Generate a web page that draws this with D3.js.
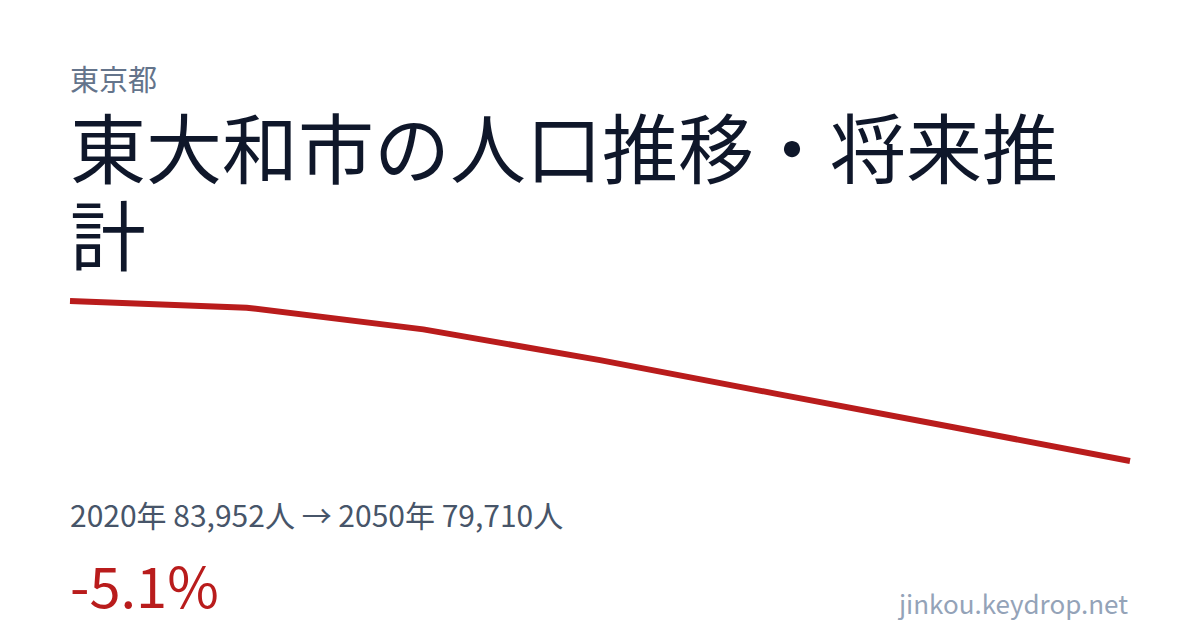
<!DOCTYPE html>
<html>
<head>
<meta charset="utf-8">
<script src="https://cdn.jsdelivr.net/npm/d3@7"></script>
<style>
  html, body { margin: 0; padding: 0; background: #fff; }
  svg { display: block; font-family: "Noto Sans CJK JP", "Noto Sans", sans-serif; }
</style>
</head>
<body>
<svg id="chart" width="1200" height="630"></svg>
<script>
// data
var years = [2020, 2025, 2030, 2035, 2040, 2045, 2050];
var population = [83952, 83775, 83200, 82385, 81490, 80605, 79710];

var prefName = "東京都";
var titleText = "東大和市の人口推移・将来推計";
var siteName = "jinkou.keydrop.net";

var W = 1200, H = 630;
var left = 70, right = 1130;

var svg = d3.select("#chart");

svg.append("rect").attr("width", W).attr("height", H).attr("fill", "#ffffff");

svg.append("text")
    .attr("x", left).attr("y", 91)
    .attr("font-size", 29)
    .attr("fill", "#64748b")
    .text(prefName);

// title, wrapped to the available width
var title = svg.append("text")
    .attr("x", left).attr("y", 178)
    .attr("font-size", 76)
    .attr("fill", "#0f172a");

(function wrap(){
    var chars = Array.from(titleText), line = "", lines = [];
    var probe = title.append("tspan");
    chars.forEach(function(c){
        probe.text(line + c);
        if (probe.node().getComputedTextLength() > right - left && line) {
            lines.push(line);
            line = c;
        } else {
            line += c;
        }
    });
    lines.push(line);
    probe.remove();
    lines.forEach(function(l, i){
        title.append("tspan")
            .attr("x", left)
            .attr("dy", i === 0 ? 0 : 87)
            .text(l);
    });
})();

// line
var x = d3.scaleLinear()
    .domain(d3.extent(years))
    .range([left, right]);

var y = d3.scaleLinear()
    .domain(d3.extent(population))
    .range([461, 301]);

var line = d3.line()
    .x(function(d, i){ return x(years[i]); })
    .y(function(d){ return y(d); });

svg.append("path")
    .datum(population)
    .attr("d", line)
    .attr("fill", "none")
    .attr("stroke", "#b91c1c")
    .attr("stroke-width", 6);

// stats
var first = population[0], last = population[population.length - 1];
var fmt = d3.format(",");
svg.append("text")
    .attr("x", left).attr("y", 527)
    .attr("font-size", 30)
    .attr("fill", "#475569")
    .text(years[0] + "年 " + fmt(first) + "人 → " + years[years.length - 1] + "年 " + fmt(last) + "人");

var pct = ((last - first) / first * 100).toFixed(1);
svg.append("text")
    .attr("x", left).attr("y", 608)
    .attr("font-size", 56)
    .attr("fill", "#b91c1c")
    .text(pct + "%");

svg.append("text")
    .attr("x", right - 2).attr("y", 614)
    .attr("text-anchor", "end")
    .attr("font-size", 26)
    .attr("fill", "#94a3b8")
    .text(siteName);
</script>
</body>
</html>
